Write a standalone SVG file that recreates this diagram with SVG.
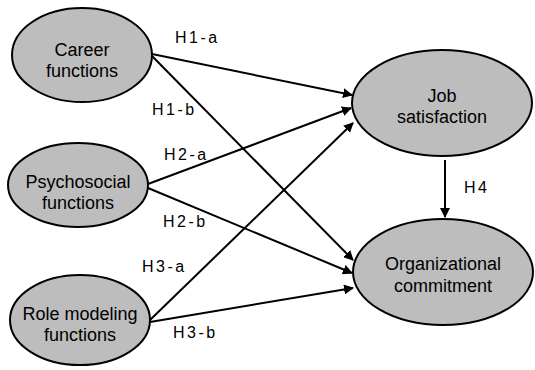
<svg xmlns="http://www.w3.org/2000/svg" width="535" height="370" viewBox="0 0 535 370">
<style>
.node{fill:#bdbdbd;stroke:#000;stroke-width:2}
.nt{font-family:"Liberation Sans",Arial,sans-serif;font-size:18px;fill:#000;text-anchor:middle}
.lbl{font-family:"Liberation Sans",Arial,sans-serif;font-size:16px;fill:#000;letter-spacing:2.5px}
.edge{stroke:#000;stroke-width:2;fill:none;marker-end:url(#ah)}
</style>
<defs>
<marker id="ah" viewBox="0 0 10 10" refX="9" refY="5" markerWidth="10" markerHeight="10" markerUnits="userSpaceOnUse" orient="auto">
<path d="M0,0 L10,5 L0,10 z" fill="#000"/>
</marker>
</defs>
<rect width="535" height="370" fill="#fff"/>
<g id="connectors">
<line class="edge" x1="152" y1="54" x2="352" y2="95"/>
<line class="edge" x1="152" y1="56" x2="353" y2="260"/>
<line class="edge" x1="148" y1="184" x2="351" y2="108"/>
<line class="edge" x1="148" y1="188" x2="352" y2="273"/>
<line class="edge" x1="150" y1="320" x2="353" y2="123"/>
<line class="edge" x1="150" y1="322" x2="353" y2="288"/>
<line class="edge" x1="445" y1="160" x2="445" y2="217"/>
</g>
<g id="labels">
<text class="lbl" x="175" y="43">H1-a</text>
<text class="lbl" x="152" y="115">H1-b</text>
<text class="lbl" x="164" y="160">H2-a</text>
<text class="lbl" x="163" y="227">H2-b</text>
<text class="lbl" x="142" y="272">H3-a</text>
<text class="lbl" x="173" y="338">H3-b</text>
<text class="lbl" x="464" y="193">H4</text>
</g>
<g id="career">
<ellipse class="node" cx="82" cy="55" rx="70" ry="47"/>
<text class="nt" x="82" y="56">Career</text>
<text class="nt" x="82" y="77">functions</text>
</g>
<g id="psychosocial">
<ellipse class="node" cx="78" cy="185" rx="70" ry="42"/>
<text class="nt" x="78" y="188">Psychosocial</text>
<text class="nt" x="78" y="209">functions</text>
</g>
<g id="role">
<ellipse class="node" cx="80" cy="320" rx="70" ry="45"/>
<text class="nt" x="80" y="320">Role modeling</text>
<text class="nt" x="80" y="341">functions</text>
</g>
<g id="job">
<ellipse class="node" cx="442" cy="103" rx="90" ry="53"/>
<text class="nt" x="442" y="102">Job</text>
<text class="nt" x="442" y="123">satisfaction</text>
</g>
<g id="org">
<ellipse class="node" cx="443" cy="272" rx="90" ry="53"/>
<text class="nt" x="443" y="270">Organizational</text>
<text class="nt" x="443" y="292">commitment</text>
</g>
</svg>
